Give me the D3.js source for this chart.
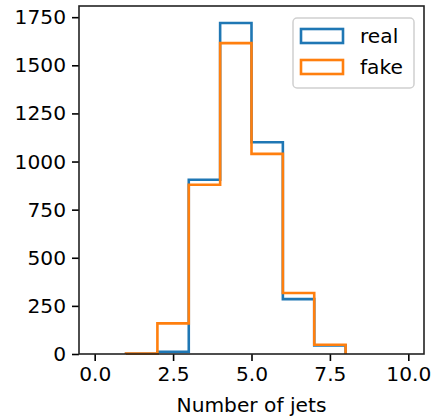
<!DOCTYPE html>
<html><head><meta charset="utf-8">
<script src="https://cdn.jsdelivr.net/npm/d3@7"></script>
<style>
html,body{margin:0;padding:0;background:#fff;}
svg text{font-family:"DejaVu Sans",sans-serif;fill:#000;}
</style></head>
<body><svg id="c" width="432" height="420"></svg>
<script>
const binEdges = [1, 2, 3, 4, 5, 6, 7, 8];
const realCounts = [1, 12, 905, 1720, 1100, 285, 45];
const fakeCounts = [2, 159, 879, 1615, 1040, 317, 48];
const xTicks = [0, 2.5, 5, 7.5, 10];
const yTicks = [0, 250, 500, 750, 1000, 1250, 1500, 1750];
const seriesNames = ["real", "fake"];
const colors = ["#1f77b4", "#ff7f0e"];

const svg = d3.select("#c");
const L = 79, R = 424, T = 6, B = 354;
const x = d3.scaleLinear().domain([-0.5, 10.5]).range([L, R]);
const y = d3.scaleLinear().domain([0, 1722 * 1.05]).range([B, T]);
const fs = 20.2;

function stepPts(counts) {
  const pts = [[binEdges[0], 0]];
  counts.forEach((c, i) => { pts.push([binEdges[i], c]); pts.push([binEdges[i + 1], c]); });
  pts.push([binEdges[binEdges.length - 1], 0]);
  return pts;
}
const line = d3.line().x(d => x(d[0])).y(d => y(d[1]));
[realCounts, fakeCounts].forEach((cs, i) => {
  svg.append("path").attr("d", line(stepPts(cs))).attr("fill", "none")
    .attr("stroke", colors[i]).attr("stroke-width", 2.6).attr("stroke-linejoin", "miter");
});

const xAxis = d3.axisBottom(x).tickValues(xTicks).tickFormat(d3.format(".1f")).tickSize(7).tickPadding(6);
const gx = svg.append("g").attr("transform", `translate(0,${B})`).call(xAxis);
const yAxis = d3.axisLeft(y).tickValues(yTicks).tickFormat(d3.format("d")).tickSize(7).tickPadding(6);
const gy = svg.append("g").attr("transform", `translate(${L},0)`).call(yAxis);
[gx, gy].forEach(g => {
  g.select(".domain").remove();
  g.selectAll(".tick line").attr("stroke", "#000").attr("stroke-width", 1.6);
  g.selectAll(".tick text").attr("font-size", fs).attr("fill", "#111");
});
gx.selectAll(".tick text").attr("dy", "0.71em");

svg.append("rect").attr("x", L).attr("y", T).attr("width", R - L).attr("height", B - T)
  .attr("fill", "none").attr("stroke", "#222").attr("stroke-width", 1.6);

svg.append("text").attr("x", (L + R) / 2).attr("y", 412).attr("text-anchor", "middle")
  .attr("font-size", fs).attr("fill", "#111").text("Number of jets");

// legend
const lg = svg.append("g");
lg.append("rect").attr("x", 293).attr("y", 18).attr("width", 121).attr("height", 70)
  .attr("rx", 4).attr("fill", "#fff").attr("fill-opacity", 0.8).attr("stroke", "#d0d0d0").attr("stroke-width", 1.5);
seriesNames.forEach((n, i) => {
  const yy = 29 + i * 31;
  lg.append("rect").attr("x", 301).attr("y", yy).attr("width", 42).attr("height", 14)
    .attr("fill", "none").attr("stroke", colors[i]).attr("stroke-width", 2.6);
  lg.append("text").attr("x", 360).attr("y", yy + 14).attr("font-size", fs).attr("fill", "#111").text(n);
});
</script></body></html>
